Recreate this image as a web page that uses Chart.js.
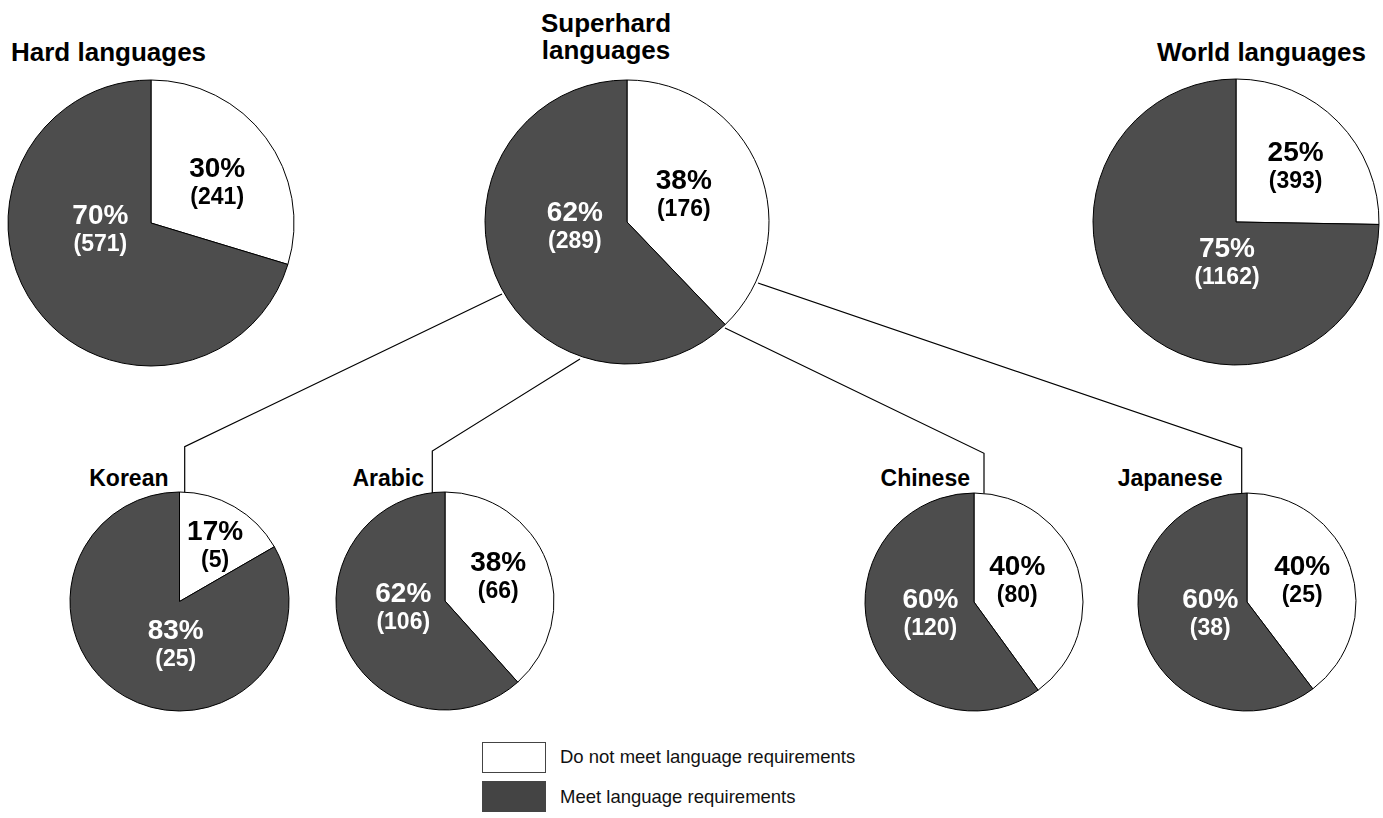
<!DOCTYPE html>
<html>
<head>
<meta charset="utf-8">
<script src="https://cdn.jsdelivr.net/npm/chart.js@4.4.1/dist/chart.umd.min.js"></script>
<style>
    html, body {
        margin: 0;
        padding: 0;
        background: #fff;
    }

    #stage {
        position: relative;
        width: 1383px;
        height: 818px;
        overflow: hidden;
        font-family: "Liberation Sans", Arial, Helvetica, sans-serif;
        color: #000;
    }

    #stage canvas,
    #stage svg,
    .title,
    .legend-box,
    .legend-text {
        position: absolute;
    }

    .title {
        font-weight: bold;
        white-space: nowrap;
    }

    .title.big {
        font-size: 26px;
        line-height: 27px;
    }

    .title.small {
        font-size: 23px;
        line-height: 23px;
        width: 200px;
        text-align: right;
    }

    .legend-box {
        width: 62px;
        height: 29px;
        border: 1px solid #444;
    }

    .legend-text {
        font-size: 18.5px;
        line-height: 18px;
        color: #111;
        white-space: nowrap;
    }
</style>
</head>
<body>
<div id="stage">
    <svg id="links" width="1383" height="818"></svg>

    <div class="title big" style="left:11px; top:38.5px;">Hard languages</div>
    <div class="title big" style="left:526px; top:10px; width:160px; text-align:center;">Superhard<br>languages</div>
    <div class="title big" style="left:1157px; top:38.5px;">World languages</div>

    <div class="title small" style="left:-31.5px; top:466.5px;">Korean</div>
    <div class="title small" style="left:224px; top:466.5px;">Arabic</div>
    <div class="title small" style="left:770px; top:466.5px;">Chinese</div>
    <div class="title small" style="left:1022.5px; top:466.5px;">Japanese</div>

    <div class="legend-box" style="left:482px; top:742px; background:#fff;"></div>
    <div class="legend-box" style="left:482px; top:781px; background:#444;"></div>
    <div class="legend-text" id="legend0" style="left:560px; top:748px;"></div>
    <div class="legend-text" id="legend1" style="left:560px; top:788px;"></div>
</div>

<script>
// ---- data ----
const groups = ["Hard languages", "Superhard languages", "World languages", "Korean", "Arabic", "Chinese", "Japanese"];
const seriesNames = ["Do not meet language requirements", "Meet language requirements"];
const notMeet = [241, 176, 393, 5, 66, 80, 25];
const meet = [571, 289, 1162, 25, 106, 120, 38];

// ---- layout (centre x, centre y, radius) ----
const pieLayout = [
    [150.5, 222.5, 143],
    [627, 221.5, 142],
    [1236, 222, 143],
    [179, 601.2, 109.5],
    [445, 601.2, 109],
    [974, 601.7, 109],
    [1246.5, 601.7, 109]
];

// label block offsets as fractions of radius: [white slice, dark slice]
const labelOffsets = [
    [[0.463, -0.285], [-0.354, 0.044]],
    [[0.40, -0.195], [-0.367, 0.031]],
    [[0.417, -0.393], [-0.063, 0.277]],
    [[0.325, -0.519], [-0.035, 0.39]],
    [[0.488, -0.227], [-0.383, 0.055]],
    [[0.397, -0.198], [-0.40, 0.101]],
    [[0.506, -0.198], [-0.337, 0.101]]
];

// connector lines from the superhard pie down to each language pie
const links = [
    [[502, 294], [184.7, 446.7], [184.7, 500]],
    [[580, 359], [432.3, 451], [432.3, 500]],
    [[725, 328], [984, 453.3], [984, 500]],
    [[758, 283], [1241.7, 448.3], [1241.7, 500]]
];

const WHITE = "#ffffff";
const DARK = "#4d4d4d";
const FONT = "'Liberation Sans', Arial, Helvetica, sans-serif";

document.getElementById("legend0").textContent = seriesNames[0];
document.getElementById("legend1").textContent = seriesNames[1];

/* Connectors */
const svg = document.getElementById("links");
links.forEach(pts => {
    const line = document.createElementNS("http://www.w3.org/2000/svg", "polyline");
    line.setAttribute("points", pts.map(p => p.join(",")).join(" "));
    line.setAttribute("fill", "none");
    line.setAttribute("stroke", "#000");
    line.setAttribute("stroke-width", "1.2");
    svg.appendChild(line);
});

/* Percent + count labels inside the slices */
const sliceLabels = {
    id: "sliceLabels",
    afterDatasetsDraw(chart) {
        const { ctx } = chart;
        const idx = chart.options.plugins.sliceLabels.index;
        const data = chart.data.datasets[0].data;
        const total = data.reduce((a, b) => a + b, 0);
        const arcs = chart.getDatasetMeta(0).data;

        ctx.save();
        ctx.textAlign = "center";
        ctx.textBaseline = "alphabetic";

        arcs.forEach((arc, j) => {
            const r = arc.outerRadius;
            const [fx, fy] = labelOffsets[idx][j];
            const x = arc.x + fx * r;
            const y = arc.y + fy * r;

            ctx.fillStyle = j === 0 ? "#000" : "#fff";
            // percent on top, count in brackets below
            ctx.font = `bold 28px ${FONT}`;
            ctx.fillText(Math.round(data[j] / total * 100) + "%", x, y - 15 + 10);
            ctx.font = `bold 23px ${FONT}`;
            ctx.fillText("(" + data[j] + ")", x, y + 16 + 6);
        });

        ctx.restore();
    }
};

const stage = document.getElementById("stage");

groups.forEach((name, i) => {
    const [cx, cy, r] = pieLayout[i];
    const side = Math.ceil(2 * r + 6);

    const canvas = document.createElement("canvas");
    canvas.width = side;
    canvas.height = side;
    canvas.style.left = (cx - side / 2) + "px";
    canvas.style.top = (cy - side / 2) + "px";
    canvas.setAttribute("aria-label", name);
    stage.appendChild(canvas);

    new Chart(canvas, {
        type: "pie",
        data: {
            labels: seriesNames,
            datasets: [{
                data: [notMeet[i], meet[i]],
                backgroundColor: [WHITE, DARK],
                borderColor: "#000",
                borderWidth: 1,
                hoverOffset: 0
            }]
        },
        options: {
            responsive: false,
            animation: false,
            events: [],
            radius: r,
            layout: { padding: 0 },
            plugins: {
                legend: { display: false },
                tooltip: { enabled: false },
                sliceLabels: { index: i }
            }
        },
        plugins: [sliceLabels]
    });
});
</script>
</body>
</html>
